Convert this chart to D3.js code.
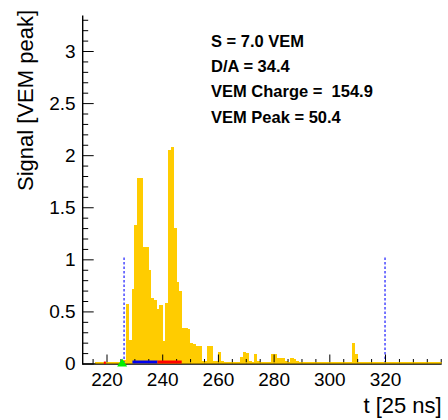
<!DOCTYPE html>
<html>
<head>
<meta charset="utf-8">
<script src="https://cdn.jsdelivr.net/npm/d3@7"></script>
<style>
  html, body { margin: 0; padding: 0; background: #ffffff; }
  svg { display: block; }
  text { font-family: "Liberation Sans", Arial, Helvetica, sans-serif; }
</style>
</head>
<body>
<svg id="chart" width="448" height="420"></svg>
<script>
// ---------- data ----------
const binStart = 216;           // first bin low edge [t]
const binValues = [
  0.015, 0.015, 0.015, 0.015, 0.015, 0.015, 0.015, 0.015, 0.015, 0.015, // 216-225
  0.03, 0.57, 0.23, 0.72, 1.33, 1.78, 1.78, 1.12, 1.12, 0.90,           // 226-235
  0.63, 0.61, 0.52, 0.56, 0.22, 0.58, 2.05, 2.08, 1.30, 0.78,           // 236-245
  0.70, 0.34, 0.34, 0.33, 0.20, 0.19, 0.17, 0.17, 0.02, 0.02,           // 246-255
  0.17, 0.17, 0.02, 0.02, 0.11, 0.02, 0.015, 0.015, 0.015, 0.015,       // 256-265
  0.015, 0.015, 0.06, 0.11, 0.10, 0.02, 0.015, 0.09, 0.02, 0.015,       // 266-275
  0.015, 0.015, 0.015, 0.09, 0.09, 0.05, 0.05, 0.05, 0.02, 0.015,       // 276-285
  0.05, 0.04, 0.02, 0.015, 0.015, 0.015, 0.015, 0.015, 0.015, 0.015,    // 286-295
  0.015, 0.015, 0.015, 0.015, 0.015, 0.015, 0.015, 0.015, 0.015, 0.015, // 296-305
  0.015, 0.015, 0.20, 0.09, 0.015, 0.015, 0.015, 0.015, 0.015, 0.015,   // 306-315
  0.015, 0.015, 0.015, 0.015, 0.015, 0.015, 0.015, 0.015, 0.015, 0.015, // 316-325
  0.015, 0.015, 0.015, 0.015, 0.015, 0.015, 0.015, 0.015, 0.015, 0.015, // 326-335
  0.015, 0.015, 0.015, 0.015                                            // 336-339
];
const xMajorTicks = [220, 240, 260, 280, 300, 320];
const xMinorTicks = [215, 225, 230, 235, 245, 250, 255, 265, 270, 275, 285, 290, 295, 305, 310, 315, 325, 330, 335, 340];
const yMajorTicks = [0, 0.5, 1, 1.5, 2, 2.5, 3];
const yMinorTicks = [0.1, 0.2, 0.3, 0.4, 0.6, 0.7, 0.8, 0.9, 1.1, 1.2, 1.3, 1.4, 1.6, 1.7, 1.8, 1.9,
                     2.1, 2.2, 2.3, 2.4, 2.6, 2.7, 2.8, 2.9, 3.1, 3.2, 3.3];
const windowLines = [226.3, 320];       // dashed start/stop markers
const windowLineHeight = 1.03;
const startMarker = 225.6;              // green triangle
const blueSegment = [229.3, 238.3];
const redSegment = [238.3, 247.0];
const redDot = 219.4;
const infoLines = ["S = 7.0 VEM", "D/A = 34.4", "VEM Charge =  154.9", "VEM Peak = 50.4"];
const xTitle = "t [25 ns]";
const yTitle = "Signal [VEM peak]";

// ---------- layout ----------
const svg = d3.select("#chart");
const L = 82.7, R = 441.7, B = 363.5, T = 15.6;
const x = d3.scaleLinear().domain([211.45, 340.35]).range([L, R]);
const y = d3.scaleLinear().domain([0, 3.34]).range([B, T]);

const bins = binValues.map((v, i) => ({ t0: binStart + i, t1: binStart + i + 1, v }));

// histogram bars
svg.append("g").selectAll("rect").data(bins).join("rect")
  .attr("x", d => x(d.t0))
  .attr("width", d => x(d.t1) - x(d.t0) + 0.4)
  .attr("y", d => y(d.v))
  .attr("height", d => y(0) - y(d.v))
  .attr("fill", "#ffcc00")
  .attr("shape-rendering", "crispEdges");

// dashed window lines
svg.append("g").selectAll("line").data(windowLines).join("line")
  .attr("x1", d => x(d)).attr("x2", d => x(d))
  .attr("y1", y(0)).attr("y2", y(windowLineHeight))
  .attr("stroke", "#1a1aff").attr("stroke-width", 1.2)
  .attr("stroke-dasharray", "2.5,2");

// axes
const fontTick = 19;
const xAxis = d3.axisBottom(x).tickValues(xMajorTicks).tickSize(-9).tickPadding(9).tickFormat(d3.format("d"));
const xAxisMinor = d3.axisBottom(x).tickValues(xMinorTicks).tickSize(-4.5).tickFormat("");
const yAxis = d3.axisLeft(y).tickValues(yMajorTicks).tickSize(-11).tickPadding(7).tickFormat(d => String(d));
const yAxisMinor = d3.axisLeft(y).tickValues(yMinorTicks).tickSize(-5.5).tickFormat("");

function styleAxis(g) {
  g.select(".domain").remove();
  g.selectAll(".tick line").attr("stroke", "#000").attr("stroke-width", 1);
  g.selectAll(".tick text").attr("fill", "#000").style("font-size", fontTick + "px")
    .style("font-family", '"Liberation Sans", Arial, sans-serif');
}
svg.append("g").attr("transform", `translate(0,${B})`).call(xAxisMinor).call(styleAxis);
svg.append("g").attr("transform", `translate(0,${B})`).call(xAxis).call(styleAxis);
svg.append("g").attr("transform", `translate(${L},0)`).call(yAxisMinor).call(styleAxis);
svg.append("g").attr("transform", `translate(${L},0)`).call(yAxis).call(styleAxis);

// axis lines
svg.append("line").attr("x1", L).attr("x2", R).attr("y1", B + 0.5).attr("y2", B + 0.5)
  .attr("stroke", "#000").attr("stroke-width", 1.6);
svg.append("line").attr("x1", L).attr("x2", L).attr("y1", T).attr("y2", B + 1.2)
  .attr("stroke", "#000").attr("stroke-width", 1.4);

// yellow baseline over the axis (near-zero histogram content)
svg.append("line").attr("x1", x(binStart)).attr("x2", R).attr("y1", B - 0.6).attr("y2", B - 0.6)
  .attr("stroke", "#ffcc00").attr("stroke-width", 1.4);

// coloured segments on the baseline
svg.append("line").attr("x1", x(blueSegment[0])).attr("x2", x(blueSegment[1]))
  .attr("y1", B - 1.5).attr("y2", B - 1.5).attr("stroke", "#0000ee").attr("stroke-width", 3);
svg.append("line").attr("x1", x(redSegment[0])).attr("x2", x(redSegment[1]))
  .attr("y1", B - 1.5).attr("y2", B - 1.5).attr("stroke", "#ff0000").attr("stroke-width", 3);
svg.append("rect").attr("x", x(redDot) - 1).attr("y", B - 2).attr("width", 2).attr("height", 2.5)
  .attr("fill", "#ff0000");

// green triangle
const gx = x(startMarker);
svg.append("path")
  .attr("d", `M${gx - 5},${B + 3} L${gx + 5},${B + 3} L${gx},${B - 5} Z`)
  .attr("fill", "#00ee00");

// axis titles
svg.append("text").attr("x", R).attr("y", 413).attr("text-anchor", "end")
  .style("font-size", "22px").attr("fill", "#000").text(xTitle);
svg.append("text").attr("transform", `translate(33,10) rotate(-90)`).attr("text-anchor", "end")
  .style("font-size", "22px").attr("fill", "#000").text(yTitle);

// info text
svg.append("g").selectAll("text").data(infoLines).join("text")
  .attr("x", 211).attr("y", (d, i) => 46.5 + i * 25.4)
  .style("font-size", "16.5px").style("font-weight", "bold").style("white-space", "pre")
  .attr("xml:space", "preserve")
  .attr("fill", "#000").text(d => d);
</script>
</body>
</html>
